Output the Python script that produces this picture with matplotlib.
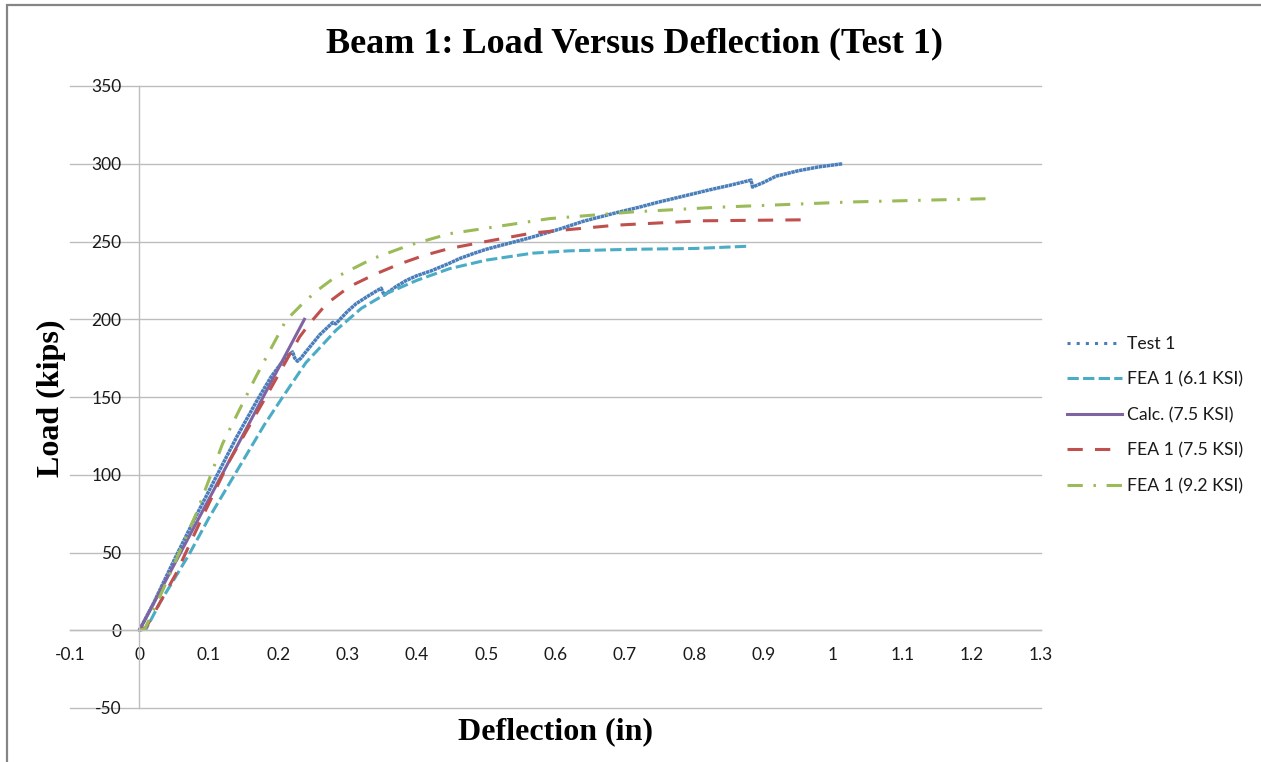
import matplotlib
matplotlib.use("Agg")
import matplotlib.pyplot as plt
from matplotlib.lines import Line2D
from matplotlib.patches import Rectangle

# ---- data ----
test1_x = [0, 0.02, 0.05, 0.08, 0.11, 0.14, 0.17, 0.19, 0.205, 0.215, 0.221, 0.224, 0.228,
           0.233, 0.240, 0.26, 0.279, 0.283, 0.30, 0.3125, 0.33, 0.3486, 0.353, 0.37, 0.385,
           0.40, 0.42, 0.447, 0.4616, 0.48, 0.50, 0.534, 0.56, 0.606, 0.64, 0.6875, 0.72,
           0.75, 0.783, 0.82, 0.85, 0.882, 0.884, 0.90, 0.918, 0.95, 0.98, 1.014]
test1_y = [0, 17, 45, 72, 98, 124, 148, 163, 172, 177, 179, 175, 173,
           175, 179, 190, 198, 197, 205, 210, 215, 220, 215.5, 221, 225,
           228, 231, 236, 239, 242, 245, 249, 252, 258, 263, 268.5, 272,
           275.5, 279, 283, 286, 289.5, 285, 288, 292, 295.5, 298, 300]

fea61_x = [0, 0.01, 0.03, 0.072, 0.10, 0.144, 0.18, 0.2067, 0.24, 0.2837, 0.32, 0.356,
           0.40, 0.447, 0.50, 0.567, 0.62, 0.711, 0.80, 0.88]
fea61_y = [0, 1, 18, 49, 72, 105, 132, 150, 172, 193, 207, 216.5,
           225, 232.5, 238, 242.5, 244, 245, 245.5, 247]

calc_x = [0, 0.238]
calc_y = [0, 200]

fea75_x = [0, 0.01, 0.053, 0.09, 0.13, 0.1875, 0.231, 0.245, 0.27, 0.303, 0.34, 0.375,
           0.41, 0.447, 0.50, 0.567, 0.6875, 0.808, 0.97]
fea75_y = [0, 2, 36.5, 72, 109, 154, 188.6, 197, 210, 221, 229, 235.5,
           241, 245.5, 250, 255.5, 260.5, 263.3, 264]

fea92_x = [0, 0.008, 0.0337, 0.082, 0.120, 0.168, 0.2116, 0.233, 0.255, 0.279, 0.3365,
           0.389, 0.447, 0.591, 0.711, 0.832, 1.024, 1.22]
fea92_y = [0, 1, 25.7, 75, 120, 163, 199.4, 209, 218, 226, 239,
           247.6, 255, 264.7, 269, 272, 275.4, 277.5]

labels = ["Test 1", "FEA 1 (6.1 KSI)", "Calc. (7.5 KSI)", "FEA 1 (7.5 KSI)", "FEA 1 (9.2 KSI)"]
x_ticks = [-0.1, 0, 0.1, 0.2, 0.3, 0.4, 0.5, 0.6, 0.7, 0.8, 0.9, 1, 1.1, 1.2, 1.3]
y_ticks = [-50, 0, 50, 100, 150, 200, 250, 300, 350]

# ---- styling ----
W, H = 1261, 762
fig = plt.figure(figsize=(W / 100, H / 100), dpi=100)
tick_font = "Lato"
serif = "Liberation Serif"

c_blue, c_cyan, c_purple, c_red, c_green = "#4A7EBB", "#4BACC6", "#8064A2", "#C0504D", "#9BBB59"
lw = 2.2

ax = fig.add_axes([70 / W, 1 - 708 / H, 971 / W, (708 - 86) / H])
ax.set_xlim(-0.1, 1.3)
ax.set_ylim(-50, 350)

grid_c = "#BDBDBD"
for yv in y_ticks:
    ax.axhline(yv, color=grid_c, lw=1.0, clip_on=False, zorder=0.5)

ax.plot(test1_x, test1_y, color=c_blue, lw=2.5, ls=(0, (1.0, 0.15)))
ax.plot(fea61_x, fea61_y, color=c_cyan, lw=lw, ls=(0, (3.7, 1.4)))
ax.plot(calc_x, calc_y, color=c_purple, lw=lw, ls="-")
ax.plot(fea75_x, fea75_y, color=c_red, lw=lw, ls=(0, (5, 4)))
ax.plot(fea92_x, fea92_y, color=c_green, lw=lw, ls=(0, (5, 3.5, 0.8, 3.5)))

ax.set_yticks(y_ticks)
ax.set_xticks(x_ticks)
ax.set_xticklabels([f"{v:g}" for v in x_ticks])
ax.set_yticklabels([f"{v:g}" for v in y_ticks])
ax.set_axisbelow(True)
for s in ["top", "right"]:
    ax.spines[s].set_visible(False)
ax.spines["left"].set_position(("data", 0))
ax.spines["bottom"].set_position(("data", 0))
ax.spines["left"].set_color(grid_c)
ax.spines["bottom"].set_color(grid_c)
ax.spines["left"].set_linewidth(1.0)
ax.spines["bottom"].set_linewidth(1.0)
ax.tick_params(axis="both", length=0, labelsize=12.5, colors="#000000")
ax.tick_params(axis="y", pad=13)
ax.tick_params(axis="x", pad=12)
for t in ax.get_xticklabels() + ax.get_yticklabels():
    t.set_fontfamily(tick_font)
    t.set_color("#1a1a1a")

fig.text(635 / W, 1 - 44 / H, "Beam 1: Load Versus Deflection (Test 1)", ha="center", va="center",
         fontsize=26, fontweight="bold", family=serif)
fig.text(51 / W, 1 - 398 / H, "Load (kips)", ha="center", va="center", rotation=90,
         fontsize=23, fontweight="bold", family=serif)
fig.text(556 / W, 1 - 732 / H, "Deflection (in)", ha="center", va="center",
         fontsize=23, fontweight="bold", family=serif)

handles = [
    Line2D([], [], color=c_blue, lw=lw, ls=(0, (1, 2))),
    Line2D([], [], color=c_cyan, lw=lw, ls=(0, (3.7, 1.4))),
    Line2D([], [], color=c_purple, lw=lw, ls="-"),
    Line2D([], [], color=c_red, lw=lw, ls=(0, (5, 4))),
    Line2D([], [], color=c_green, lw=lw, ls=(0, (5, 3.5, 0.8, 3.5))),
]
leg = fig.legend(handles, labels, loc="center left", bbox_to_anchor=(1067 / W, 1 - 415 / H),
                 frameon=False, handlelength=3.1, handletextpad=0.3, labelspacing=1.1,
                 borderpad=0, borderaxespad=0, prop={"family": tick_font, "size": 12.7})
for t in leg.get_texts():
    t.set_color("#1a1a1a")

fig.patches.append(Rectangle((7 / W, -0.05), 1.2, 1.05 - 5 / H, transform=fig.transFigure,
                             fill=False, edgecolor="#858585", lw=1.6))

fig.savefig("out.png", dpi=100)
